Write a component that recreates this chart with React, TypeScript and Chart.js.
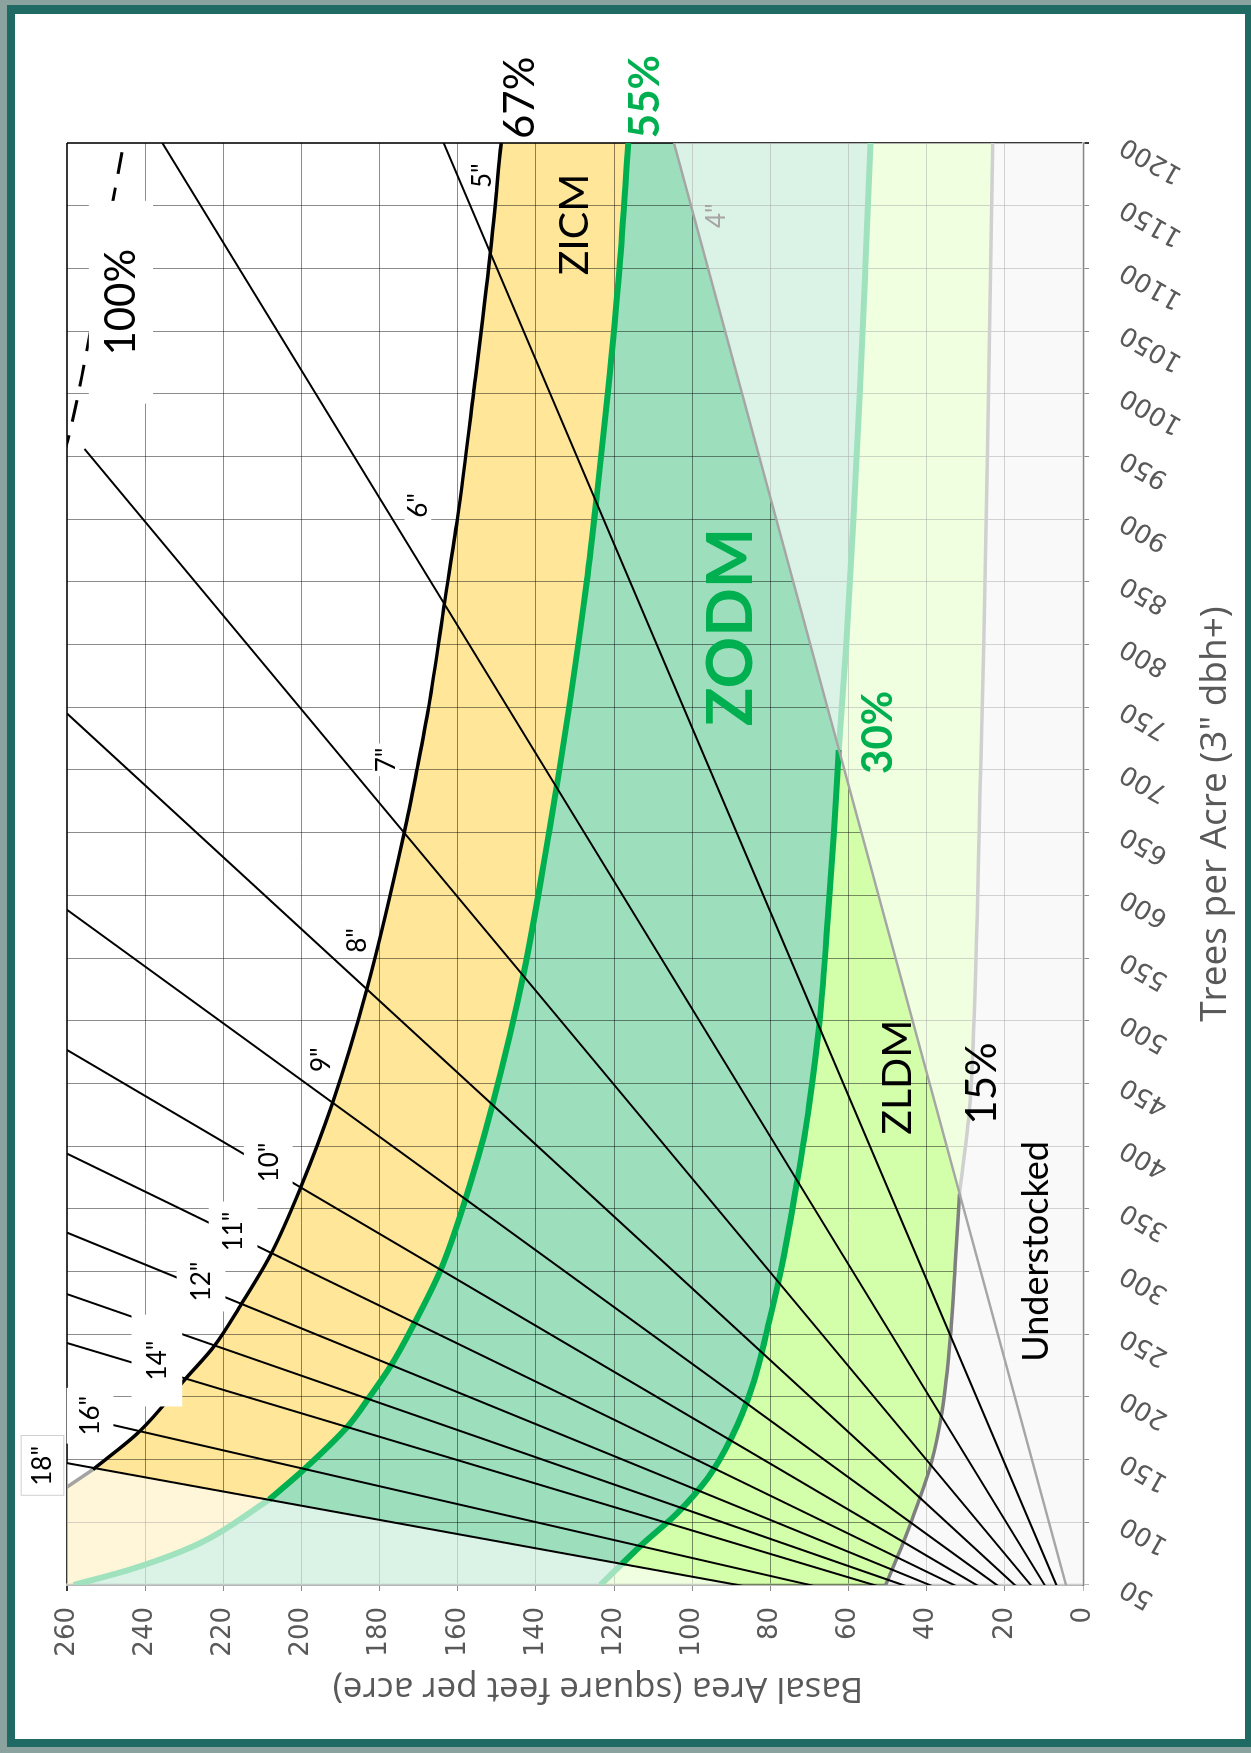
import React, { useEffect, useRef } from "react";
import { Chart, registerables } from "chart.js";

Chart.register(...registerables);

// ---------- axes ----------
const TPA_MIN = 50;
const TPA_MAX = 1200;
const TPA_STEP = 50;
const BA_MIN = 0;
const BA_MAX = 260;
const BA_STEP = 20;

type Pt = [number, number]; // [trees per acre, basal area]

// ---------- relative density (stocking) curves ----------
const stock100: Pt[] = [[950, 261.0], [963, 259.8], [1014, 256.2], [1151, 248.4], [1200, 245.5]];

const stock67Edge: Pt[] = [[126, 261.0], [142, 253.4]];
const stock67: Pt[] = [
  [142, 253.4], [172, 241.6], [215, 229.5], [241, 222.2], [274, 215.4], [314, 207.8],
  [367, 200.2], [434, 192.1], [526, 183.2], [650, 173.7], [701, 170.4], [751, 167.4],
  [835, 163.3], [900, 160.1], [1000, 156.0], [1112, 151.7], [1200, 148.9],
];

const stock55Edge: Pt[] = [[50, 258.3], [63, 243.2], [83, 226.2], [118, 208.3]];
const stock55: Pt[] = [
  [118, 208.3], [142, 199.4], [176, 188.3], [199, 182.8], [226, 176.9], [257, 171.4],
  [302, 164.3], [355, 158.3], [432, 151.2], [538, 143.1], [651, 136.6], [700, 134.0],
  [750, 131.5], [850, 127.0], [919, 124.4], [1000, 121.6], [1100, 118.6], [1200, 116.4],
];

const stock30Edge: Pt[] = [[50, 123.5], [66.8, 118.0]];
const stock30: Pt[] = [
  [66.8, 118.0], [82.5, 112.8], [107, 103.9], [135.4, 96.0], [168, 89.9], [208.7, 84.6],
  [261.6, 80.2], [310, 76.7], [373, 73.1], [432, 70.1], [499.6, 67.4], [595, 65.0],
  [651, 63.7], [716, 62.5],
];
const stock30Fade: Pt[] = [[716, 62.5], [800, 60.6], [901, 58.7], [1000, 57.1], [1100, 55.7], [1200, 54.4]];

const stock15: Pt[] = [
  [50, 50.5], [78.5, 46.7], [107, 43.2], [147.6, 38.8], [188, 36.1], [249, 33.9], [310, 32.6], [362, 31.6],
];
const stock15Fade: Pt[] = [[362, 31.6], [424, 29.2], [499.6, 27.9], [676.6, 26.4], [800, 25.4], [1000, 24.2], [1200, 23.1]];

// ---------- quadratic mean diameter lines (from the origin to these end points) ----------
const dbhInches = [4, 5, 6, 7, 8, 9, 10, 11, 12, 13, 14, 16, 18];
const dbhTopTpa = [1200, 1200, 1200, 956, 745, 588.5, 476.7, 394, 331, 282, 243, 186, 147.2];
const dbhTopBa = [104.7, 163.6, 235.6, 255.5, 260, 260, 260, 260, 260, 260, 260, 260, 260];

// ---------- annotations ----------
const noteText = [
  "100%", "67%", "55%", '5"', "ZICM", '4"', '6"', "ZODM", '7"', "30%", '8"', '9"',
  "ZLDM", "15%", '10"', '11"', "Understocked", '12"', '14"', '16"', '18"',
];
const noteTpa = [1073, 1236, 1237, 1174, 1135, 1142, 911, 814, 708, 730, 564, 469, 455, 450, 387, 332, 316, 292, 229, 185, 145];
const noteBa = [246.2, 144.3, 112.3, 154.0, 130.2, 93.9, 170.2, 90.3, 178.4, 52.5, 185.8, 195.2, 47.6, 26.1, 208.5, 217.5, 12.3, 225.7, 237.0, 254.1, 266.4];

// styles (kept apart from the data)
const GREEN = "#00B050";
const STYLE: Record<string, { size: number; weight: number; color: string }> = {
  pct: { size: 42, weight: 400, color: "#000" },
  pctG: { size: 42, weight: 700, color: GREEN },
  zone: { size: 41, weight: 400, color: "#000" },
  zodm: { size: 64, weight: 700, color: GREEN },
  dia: { size: 26, weight: 400, color: "#000" },
  dia4: { size: 26, weight: 400, color: "#A6A6A6" },
  under: { size: 36, weight: 400, color: "#000" },
};
const noteStyle = [
  "pct", "pct", "pctG", "dia", "zone", "dia4", "dia", "zodm", "dia", "pctG", "dia", "dia",
  "zone", "pct", "dia", "dia", "under", "dia", "dia", "dia", "dia",
];
const noteBox: ([number, number] | null)[] = [
  [48, 17], null, null, [4, 4], null, null, [4, 4], null, [4, 4], null, [4, 4], [4, 4],
  null, null, [10, 15], [10, 15], null, [10, 15], [26, 16], [8, 14], [10, 12],
];

const toXY = (a: Pt[]) => a.map(([x, y]) => ({ x, y }));
const join = (...parts: Pt[][]) => {
  const out: Pt[] = [];
  parts.forEach((p) =>
    p.forEach((q) => {
      const l = out[out.length - 1];
      if (!l || l[0] !== q[0] || l[1] !== q[1]) out.push(q);
    })
  );
  return out;
};

function lineDs(data: Pt[], color: string, width: number, order: number, extra: any = {}) {
  return {
    type: "line",
    data: toXY(data),
    borderColor: color,
    borderWidth: width,
    pointRadius: 0,
    fill: false,
    cubicInterpolationMode: "monotone",
    order,
    ...extra,
  };
}

const fadePlugin = {
  id: "fade",
  beforeDatasetsDraw(chart: any) {
    const { ctx, chartArea: a, scales } = chart;
    const P = (t: number, b: number): [number, number] => [scales.x.getPixelForValue(t), scales.y.getPixelForValue(b)];
    ctx.save();
    ctx.beginPath();
    ctx.rect(a.left, a.top, a.right - a.left, a.bottom - a.top);
    ctx.clip();
    ctx.fillStyle = "rgba(255,255,255,0.63)";
    const t4 = dbhTopTpa[0] * 1.3;
    const b4 = dbhTopBa[0] * 1.3;
    const poly1: Pt[] = [[0, stock15[0][1]], ...stock15, [t4, b4], [t4, -60], [0, -60]];
    const i18 = dbhTopTpa.length - 1;
    const t18 = dbhTopTpa[i18] * 1.4;
    const b18 = dbhTopBa[i18] * 1.4;
    const poly2: Pt[] = [[0, 0], [t18, b18], [0, b18]];
    [poly1, poly2].forEach((poly) => {
      ctx.beginPath();
      poly.forEach(([t, b], i) => {
        const [X, Y] = P(t, b);
        if (i) ctx.lineTo(X, Y);
        else ctx.moveTo(X, Y);
      });
      ctx.closePath();
      ctx.fill();
    });
    ctx.restore();
  },
};

const notesPlugin = {
  id: "notes",
  afterDatasetsDraw(chart: any) {
    const { ctx, scales } = chart;
    ctx.save();
    ctx.textAlign = "center";
    ctx.textBaseline = "middle";
    noteText.forEach((txt, i) => {
      const st = STYLE[noteStyle[i]];
      const X = scales.x.getPixelForValue(noteTpa[i]);
      const Y = scales.y.getPixelForValue(noteBa[i]);
      ctx.font = `${st.weight} ${st.size}px Lato`;
      const box = noteBox[i];
      if (box) {
        const w = ctx.measureText(txt).width;
        const h = st.size * 0.72;
        const bx = X - w / 2 - box[0];
        const by = Y - h / 2 - box[1];
        const bw = w + 2 * box[0];
        const bh = h + 2 * box[1];
        ctx.fillStyle = "#fff";
        ctx.fillRect(bx, by, bw, bh);
        if (i === noteText.length - 1) {
          ctx.strokeStyle = "#d0d0d0";
          ctx.lineWidth = 1;
          ctx.strokeRect(bx + 0.5, by + 0.5, bw, bh);
        }
      }
      ctx.fillStyle = st.color;
      ctx.fillText(txt, X, Y + 1);
    });
    ctx.restore();
  },
  afterDraw(chart: any) {
    const { ctx, chartArea: a } = chart;
    ctx.save();
    ctx.fillStyle = "#595959";
    ctx.textAlign = "center";
    ctx.textBaseline = "middle";
    ctx.font = '37px "Open Sans"';
    ctx.fillText('Trees per Acre (3" dbh+)', (a.left + a.right) / 2 + 50, a.bottom + 132);
    ctx.font = '35px "Open Sans"';
    ctx.translate(a.left - 103, (a.top + a.bottom) / 2 + 23);
    ctx.rotate(-Math.PI / 2);
    ctx.fillText("Basal Area (square feet per acre)", 0, 0);
    ctx.restore();
  },
};

const GRID = "rgba(0,0,0,0.45)";
const EDGE_DARK = "rgba(0,0,0,0.78)";
const EDGE_LIGHT = "rgba(0,0,0,0.28)";

export default function App() {
  const ref = useRef<HTMLCanvasElement>(null);
  useEffect(() => {
    if (!ref.current) return;
    const datasets: any[] = [
      // zone fills (drawn before the grid)
      lineDs(join([[TPA_MIN, BA_MAX]], stock67Edge, stock67), "rgba(0,0,0,0)", 0, 40, { fill: "origin", backgroundColor: "#FFE699" }),
      lineDs(join(stock55Edge, stock55), "rgba(0,0,0,0)", 0, 39, { fill: "origin", backgroundColor: "#9DDFBD" }),
      lineDs(join(stock30Edge, stock30, stock30Fade), "rgba(0,0,0,0)", 0, 38, { fill: "origin", backgroundColor: "#D4FFAA" }),
      lineDs(join(stock15, stock15Fade), "rgba(0,0,0,0)", 0, 37, { fill: "origin", backgroundColor: "#EEEEEE" }),
      // curves
      lineDs(stock67Edge, "#A3A3A3", 3.5, 6),
      lineDs(stock67, "#000000", 3.5, 6),
      lineDs(stock55Edge, "#A1E2BE", 6, 6),
      lineDs(stock55, GREEN, 6, 6),
      lineDs(stock30Edge, "#A1E2BE", 6, 6),
      lineDs(stock30Fade, "#A1E2BE", 6, 6),
      lineDs(stock30, GREEN, 6, 6),
      lineDs(stock15Fade, "#D0D0D0", 3.5, 6),
      lineDs(stock15, "#7F7F7F", 3.5, 6),
      lineDs(stock100, "#000000", 3, 5, { borderDash: [22, 14] }),
    ];
    dbhInches.forEach((d, i) => {
      datasets.push(
        lineDs([[0, 0], [dbhTopTpa[i], dbhTopBa[i]]], d === 4 ? "#A6A6A6" : "#000000", d === 4 ? 2.5 : 2, d === 4 ? 1 : 2, {
          cubicInterpolationMode: "default",
          tension: 0,
        })
      );
    });

    const chart = new Chart(ref.current, {
      type: "line",
      data: { datasets },
      options: {
        responsive: false,
        animation: false,
        devicePixelRatio: 1,
        layout: { padding: { top: 52, right: 129, left: 0, bottom: 0 } },
        plugins: {
          legend: { display: false },
          tooltip: { enabled: false },
          filler: { drawTime: "beforeDraw", propagate: false },
        },
        scales: {
          x: {
            type: "linear",
            min: TPA_MIN,
            max: TPA_MAX,
            afterFit: (s: any) => {
              s.height = 162;
            },
            ticks: {
              stepSize: TPA_STEP,
              autoSkip: false,
              minRotation: 60,
              maxRotation: 60,
              padding: 26,
              color: "#595959",
              font: { family: "DejaVu Sans", size: 26 },
              callback: (v: any) => String(v),
            },
            grid: {
              color: (c: any) => (c.tick && c.tick.value === TPA_MAX ? EDGE_DARK : c.tick && c.tick.value === TPA_MIN ? EDGE_LIGHT : GRID),
              lineWidth: (c: any) => (c.tick && c.tick.value === TPA_MAX ? 2 : 1),
              drawTicks: true,
              tickLength: 6,
            },
            border: { display: true, color: EDGE_LIGHT, width: 2.5 },
          },
          y: {
            type: "linear",
            min: BA_MIN,
            max: BA_MAX,
            afterFit: (s: any) => {
              s.width = 154;
            },
            ticks: {
              stepSize: BA_STEP,
              padding: 16,
              color: "#595959",
              font: { family: "DejaVu Sans", size: 26 },
              callback: (v: any) => String(v),
            },
            grid: {
              color: (c: any) => (c.tick && c.tick.value === BA_MAX ? EDGE_DARK : c.tick && c.tick.value === BA_MIN ? EDGE_LIGHT : GRID),
              lineWidth: (c: any) => (c.tick && c.tick.value === BA_MAX ? 2 : 1),
              drawTicks: true,
              tickLength: 6,
            },
            border: { display: true, color: EDGE_LIGHT, width: 2.5 },
          },
        },
      } as any,
      plugins: [fadePlugin, notesPlugin] as any,
    } as any);
    return () => chart.destroy();
  }, []);

  return (
    <div style={{ position: "absolute", left: 0, top: 0, width: 1251, height: 1753, background: "#8AA39E", overflow: "hidden" }}>
      <div style={{ position: "absolute", left: 7, top: 5, width: 1244, height: 1742, background: "#1F6A62" }} />
      <div style={{ position: "absolute", left: 15, top: 14, width: 1230, height: 1725, background: "#FFFFFF", overflow: "hidden" }}>
        <canvas
          ref={ref}
          width={1725}
          height={1230}
          style={{
            position: "absolute",
            left: 0,
            top: 0,
            width: 1725,
            height: 1230,
            transformOrigin: "0 0",
            transform: "translate(0px, 1725px) rotate(-90deg)",
          }}
        />
      </div>
    </div>
  );
}
